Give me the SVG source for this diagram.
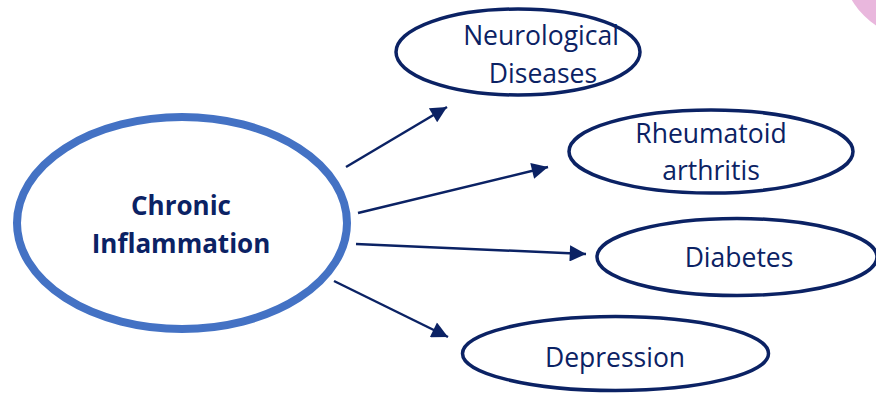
<svg xmlns="http://www.w3.org/2000/svg" width="876" height="394" viewBox="0 0 876 394">
<defs>
<style>
.node{fill:#fff;stroke:#0b2264;stroke-width:3.5}
.lbl{font-family:"Open Sans","Liberation Sans",sans-serif;font-size:26.5px;fill:#0b2264;text-anchor:middle}
.main{fill:#fff;stroke:#4472c4;stroke-width:8}
.mlbl{font-family:"Open Sans","Liberation Sans",sans-serif;font-size:26px;font-weight:bold;fill:#0b2264;text-anchor:middle}
.edge{stroke:#0b2264;stroke-width:2.5;fill:none;marker-end:url(#ah)}
</style>
<marker id="ah" viewBox="0 0 10 10" refX="10" refY="5" markerWidth="7.5" markerHeight="6.5" markerUnits="strokeWidth" orient="auto">
<path d="M0,0 L10,5 L0,10 z" fill="#0b2264"/>
</marker>
</defs>
<rect width="876" height="394" fill="#fff"/>
<circle cx="920" cy="-40" r="79" fill="#e9b7dd"/>
<g id="connectors">
<line class="edge" x1="346" y1="167" x2="447" y2="107"/>
<line class="edge" x1="358" y1="213" x2="548" y2="167"/>
<line class="edge" x1="356" y1="244" x2="586" y2="254"/>
<line class="edge" x1="334" y1="281" x2="448" y2="337"/>
</g>
<g id="chronic">
<ellipse class="main" cx="182" cy="223" rx="165" ry="106"/>
<text class="mlbl" x="181" y="215">Chronic</text>
<text class="mlbl" x="181" y="253">Inflammation</text>
</g>
<g id="neuro">
<ellipse class="node" cx="518" cy="52" rx="122" ry="43"/>
<text class="lbl" x="541" y="45">Neurological</text>
<text class="lbl" x="543" y="83">Diseases</text>
</g>
<g id="rheum">
<ellipse class="node" cx="711" cy="151.5" rx="142" ry="41.5"/>
<text class="lbl" x="711" y="143">Rheumatoid</text>
<text class="lbl" x="711" y="180">arthritis</text>
</g>
<g id="diabetes">
<ellipse class="node" cx="737" cy="257" rx="140" ry="38.5"/>
<text class="lbl" x="739" y="267">Diabetes</text>
</g>
<g id="depression">
<ellipse class="node" cx="615.5" cy="353.5" rx="153" ry="37"/>
<text class="lbl" x="615" y="367">Depression</text>
</g>
</svg>
